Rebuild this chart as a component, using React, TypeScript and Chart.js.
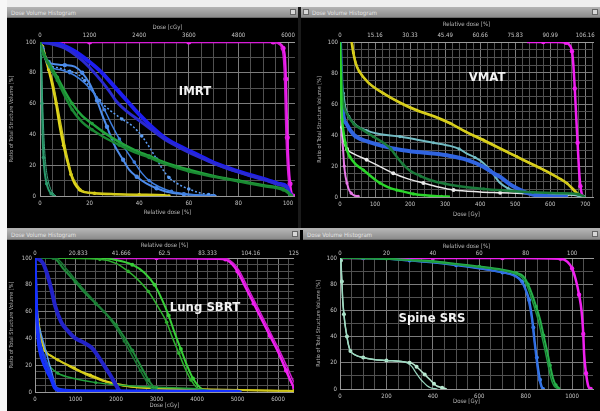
import React, { useEffect, useRef } from "react";
import { Chart, registerables } from "chart.js";

Chart.register(...registerables);

type Pt = [number, number];

// ================= IMRT (top-left): x = relative dose [%] =================
const imrtTopLabels = ["0", "1200", "2400", "3600", "4800", "6000"];
const imrtPtvA: Pt[] = [[0,100],[20,100],[40,100],[60,100],[80,100],[94,100],[96.5,99],[98,96],[98.7,90],[99.1,76],[99.4,55],[99.7,38],[100.2,20],[100.8,8],[101.5,1],[102,0]];
const imrtPtvB: Pt[] = [[0,100],[94,100],[96,99],[97.5,96],[98.2,88],[98.6,75],[98.9,55],[99.2,38],[99.7,20],[100.3,8],[101,1],[101.5,0]];
const imrtYellowA: Pt[] = [[0,100],[1,97],[2,91],[3.5,82],[5,72],[6.5,60],[8,45],[9.5,33],[11,23],[12.5,14],[14,8],[16,4],[18,2.5],[22,1.8],[30,1.2],[40,0.8],[50,0.5],[52,0]];
const imrtYellowB: Pt[] = [[0,100],[1.5,95],[3,86],[5,75],[7,59],[8.5,46],[10,33],[11.5,22],[13,13],[15,7],[17,3.5],[20,2],[26,1.5],[35,1],[45,0.6],[52,0]];
const imrtTealA: Pt[] = [[0,98],[0.3,90],[0.6,80],[0.8,60],[1,42],[1.4,25],[2,14],[2.7,8],[3.5,4],[4.5,1.5],[6,0]];
const imrtTealB: Pt[] = [[0,98],[0.5,88],[0.9,70],[1.3,50],[1.8,32],[2.5,18],[3.3,10],[4.2,5],[5.2,2],[6.5,0]];
const imrtGreenA: Pt[] = [[0,100],[1.5,92],[4,85],[7,77],[10,68],[13,60],[17,52],[21,47],[26,41],[32,35],[38,30],[44,26],[50,22],[60,17],[70,13],[80,10],[90,7],[98,4.5],[100,2.5],[101,0.5],[102,0]];
const imrtGreenB: Pt[] = [[0,100],[1.5,92],[4,84],[7,75],[10,65],[13,56],[17,48],[21,43],[26,38],[32,33],[38,28.5],[44,25],[50,21],[60,16],[70,12.5],[80,9.5],[90,6.5],[98,4],[100,2],[101,0.5],[102,0]];
const imrtBlueDarkA: Pt[] = [[0,100],[5,99.5],[9,98],[14,94],[20,87],[25,80],[30,71],[35,62],[40,53],[45,45],[51,37],[58,31],[64.5,26],[71,21],[78,17],[85,13.5],[91.5,10.5],[96,8],[99.5,6],[100.5,2],[101.5,0]];
const imrtBlueDarkB: Pt[] = [[0,100],[4,99],[10,96],[17,88],[23,78],[28,68],[31,61],[35,55],[40,49],[45,43],[51,36],[58,30],[64.5,25],[71,20.5],[78,16.5],[85,13],[91.5,10],[96,7.5],[99.5,5.5],[100.5,2],[101.5,0]];
const imrtBlueLightA: Pt[] = [[0,100],[1,96],[2,91],[3.5,87],[6,85.5],[10,85],[14,84],[17,80],[20,73],[23,62],[25,53],[27,45],[30,33],[33.5,23.5],[36,17],[39,12.5],[43,8],[47,5],[51,2.8],[58,1.2],[65,0.5],[70,0]];
const imrtBlueLightB: Pt[] = [[0,100],[1,95],[2,90],[4,85],[8,83],[12,81],[14.8,79.6],[18,75],[21,69],[24,62],[28,56],[33,50],[37.6,45],[41,39],[44,32],[47,24],[49.6,17],[52,12],[55,8.4],[60,4.5],[64.5,2],[68,1],[72,0]];
const imrtBlueLightC: Pt[] = [[0,100],[1,95],[2,89],[4,84],[8,82],[12,80],[16,76],[20,70],[23,64],[26,56],[29,46],[32,37],[35,29],[38,22],[41,15],[44,10],[48,6],[53,3],[60,1.2],[70,0]];

// ================= VMAT (top-right): x = dose [Gy] =================
const vmatTopLabels = ["0", "15.16", "30.33", "45.49", "60.66", "75.83", "90.99", "106.16"];
const vmatPtv: Pt[] = [[534,100],[580,100],[620,100],[645,99.5],[655,98],[662,94],[666,85],[670,70],[674,52],[678,35],[682,18],[686,7],[690,2],[694,0]];
const vmatYellowA: Pt[] = [[33,100],[38,93],[45,86],[55,81],[80,74],[123,67],[170,61],[219,56],[270,52],[314,47.7],[360,42],[409,36.8],[460,31],[505,26],[550,21],[600,15.3],[630,11.5],[648,8.8],[665,5],[676,2.4],[690,0]];
const vmatYellowB: Pt[] = [[35,100],[40,92],[48,85],[60,79],[90,72],[130,66],[175,60],[225,55],[275,51],[320,46.5],[365,41],[415,35.5],[465,30],[510,25],[555,20],[605,14.5],[635,10.5],[655,7.5],[670,4.5],[682,1.8],[692,0]];
const vmatPink: Pt[] = [[0,100],[2,80],[4,55],[6,40],[9,30],[12,20],[16,13],[20,9],[25,5],[32,2.5],[40,1],[52,0.5]];
const vmatGreen: Pt[] = [[0,100],[2,80],[4,60],[6,50],[9.5,43],[15,35],[20,30],[28,26],[45,21],[67,17.4],[90,13],[114,9],[140,6],[162,4.5],[190,3],[209,2],[250,1],[290,0.4],[314,0.2]];
const vmatWhite: Pt[] = [[0,100],[2,75],[4,55],[6,45],[9.5,37],[20,31],[38,28],[76,24],[114,19.6],[152,15.3],[190,12],[238,9],[280,6.5],[324,4.5],[400,3.3],[457,2.8],[550,2],[648,1.5],[680,0.8],[695,0]];
const vmatCyan: Pt[] = [[0,100],[3,85],[6,72],[9.5,67],[15,58],[25,52],[48,46],[75,43],[105,41],[171,39],[220,37],[267,35],[314,33],[340,31],[362,28],[385,25.5],[409,22],[430,17],[457,9],[480,5.5],[505,3.4],[552,2.5],[620,2],[680,1],[695,0]];
const vmatBlue: Pt[] = [[0,100],[3,80],[6,62],[10,52],[19,47],[40,40],[76,36],[120,33],[171,30.5],[220,29],[267,28],[314,26.5],[362,24],[409,19.6],[440,15],[457,13],[480,9],[505,5.6],[530,3],[552,1.5],[600,0.5],[650,0]];
const vmatDarkGreen: Pt[] = [[0,100],[3,85],[6,70],[10,60],[19,54],[40,47],[67,43],[95,39],[124,35],[145,31],[162,26],[180,21],[200,17],[230,13.5],[257,11],[300,8.5],[352,6.6],[410,5.2],[460,4.3],[550,3],[620,2.4],[680,1.8],[700,0]];

// ================= Lung SBRT (bottom-left): x = dose [cGy] =================
const lungTopLabels = ["0", "20.833", "41.666", "62.5", "83.333", "104.16", "125"];
const lungPtvA: Pt[] = [[1480,100],[3000,100],[4500,99.5],[4700,99],[4850,96],[5000,90],[5200,78],[5400,66],[5600,54],[5800,42],[6000,30],[6200,16],[6300,9],[6400,3]];
const lungPtvB: Pt[] = [[1500,100],[3000,100],[4700,99.5],[4900,96],[5050,90],[5250,78],[5450,66],[5650,54],[5850,42],[6050,30],[6250,17],[6350,10],[6450,4]];
const lungGreenA: Pt[] = [[0,100],[1600,100],[2000,98.5],[2400,95],[2700,89],[2950,80],[3150,68],[3300,57],[3450,44],[3600,32],[3750,20],[3900,10],[4050,4],[4200,1],[4300,0]];
const lungGreenB: Pt[] = [[0,100],[1600,99],[2000,96],[2300,90],[2500,85],[2800,75],[3050,63],[3250,52],[3400,40],[3550,29],[3700,18],[3850,9],[4000,3],[4150,0.5],[4250,0]];
const lungDarkGreenA: Pt[] = [[0,100],[450,100],[700,92],[1000,82],[1200,75],[1500,66],[1800,57],[2000,50],[2200,41],[2400,31],[2600,20],[2800,9],[2950,3],[3050,0]];
const lungDarkGreenB: Pt[] = [[0,100],[500,100],[800,91],[1100,80],[1400,70],[1700,60],[2000,48],[2200,38],[2400,27],[2600,16],[2750,8],[2900,2],[3000,0]];
const lungBlueDark: Pt[] = [[0,100],[100,99],[200,96],[300,88],[400,77],[500,64],[650,52],[800,46],[1000,40],[1200,37],[1400,33],[1550,27],[1700,20],[1850,13],[2000,5],[2100,0]];
const lungBlueA: Pt[] = [[0,100],[20,80],[50,55],[100,40],[200,28],[300,20],[400,12],[500,4],[600,2],[1000,1],[2000,0.8],[5000,0.5],[5100,0]];
const lungBlueB: Pt[] = [[0,100],[30,70],[60,45],[120,30],[200,22],[300,15],[400,9],[480,3],[600,1],[2000,0.6],[5000,0.3],[5050,0]];
const lungBlueLight: Pt[] = [[0,60],[80,51],[200,38],[300,27],[400,16],[480,7],[560,0]];
const lungYellowA: Pt[] = [[0,100],[20,80],[50,62],[80,54],[150,40],[241,31],[400,27],[563,24],[750,21],[964,18],[1150,15],[1366,12.7],[1650,9],[1928,6.5],[2410,4],[3000,2.8],[4000,2],[5000,1.5],[6000,1],[6380,0.8]];
const lungYellowB: Pt[] = [[0,100],[25,78],[60,58],[100,49],[180,37],[280,30],[450,26],[650,22.5],[850,19],[1050,16],[1250,13],[1500,10],[1800,7],[2200,4.5],[2800,3],[3600,2.2],[4600,1.6],[5600,1.1],[6380,0.9]];
const lungGreenLow: Pt[] = [[0,100],[30,70],[80,45],[200,28],[400,18],[563,14],[964,10],[1500,7],[2168,5],[3000,3.5],[4000,2.5],[4400,0.5],[4500,0]];

// ================= Spine SRS (bottom-right): x = dose [Gy] =================
const spineTopLabels = ["0", "20", "40", "60", "80", "100"];
const spinePtv: Pt[] = [[0,100],[100,100],[250,100],[400,100],[550,100],[700,100],[850,99.9],[950,99.5],[980,97],[1000,92],[1015,84],[1030,72],[1041,59],[1048,42],[1052,26],[1060,12],[1070,2],[1080,0]];
const spineGreenA: Pt[] = [[0,100],[200,99.5],[300,98.5],[400,97.5],[500,95.5],[600,93.5],[700,91],[760,88.5],[790,86],[810,80],[826,73],[845,63],[862,53],[877,41],[891,30],[905,18],[918,8],[930,3],[948,0]];
const spineGreenB: Pt[] = [[0,100],[200,99.2],[300,98.2],[400,97],[500,95],[600,93],[700,90.5],[755,88],[785,85],[805,79],[820,72],[838,62],[855,52],[870,40],[884,29],[898,17],[911,7],[922,2.5],[940,0]];
const spineBlueA: Pt[] = [[0,100],[100,100],[200,99.5],[300,98],[400,96.5],[500,94.5],[600,92],[700,89],[760,86],[785,82],[800,76],[815,68],[825,58],[833,47],[840,35],[848,24],[855,14.5],[862,7],[869,2],[875,0]];
const spineBlueB: Pt[] = [[0,100],[150,99.6],[250,98.8],[350,97.5],[450,95.8],[550,93.5],[650,90.5],[740,87],[770,84],[790,79],[805,72],[818,62],[828,50],[835,38],[843,26],[850,16],[857,8],[864,3],[870,0]];
const spineTealA: Pt[] = [[0,100],[4,98],[6,90],[8,82],[12,67],[17,57],[22,49],[30,40],[36,34],[45,29],[65,26],[100,24],[144,22.6],[200,21.8],[273,20.8],[300,20],[316,19],[330,17],[345,14.5],[365,11],[388,7],[405,4],[417,2.3],[440,1],[460,0]];
const spineTealB: Pt[] = [[0,100],[4,98],[6,90],[8,82],[12,67],[17,57],[22,49],[30,40],[36,34],[45,29],[65,26],[100,24],[144,22.6],[200,21.8],[273,20.8],[295,19.5],[310,17],[325,13],[345,8],[360,5],[375,2.5],[390,1],[420,0]];

// ================= styling =================
const FONT = "'Liberation Sans Narrow','DejaVu Sans Condensed','Liberation Sans',sans-serif";
const Y_TITLE = "Ratio of Total Structure Volume [%]";

interface SeriesDef {
  data: Pt[];
  color: string;
  width: number;
  dash?: number[];
  marker?: number;
}

interface PanelDef {
  left: number; top: number; width: number; height: number;
  yAxisW: number; topAxisH: number; bottomAxisH: number; rightPad: number;
  xMax: number; xGrid: number; xLabelEvery: number; yGrid: number;
  topLabels: string[]; topTitle: string; bottomTitle: string;
  yTitlePad: number; yTickPad: number;
  topTitlePad: number; topTickPad: number;
  bottomTitlePad: number; bottomTickPad: number;
  series: SeriesDef[];
}

const MAG = "#f020f0";
const YEL = "#e2d81e";
const YEL2 = "#cfc61a";
const DBLUE = "#1e1ef0";
const DBLUE2 = "#2a2ad0";
const LBLUE = "#4d8ceb";
const GREEN = "#22a33c";
const GREEN2 = "#1b8a33";
const TEAL = "#2a9a6c";
const BGREEN = "#38d038";

const panels: PanelDef[] = [
  {
    left: 7, top: 18, width: 291, height: 210,
    yAxisW: 33, topAxisH: 24, bottomAxisH: 32, rightPad: 3,
    xMax: 102.8, xGrid: 5, xLabelEvery: 20, yGrid: 10,
    topLabels: imrtTopLabels, topTitle: "Dose [cGy]", bottomTitle: "Relative dose [%]",
    yTitlePad: 1, yTickPad: 4, topTitlePad: 6, topTickPad: 3, bottomTitlePad: 12, bottomTickPad: 3.5,
    series: [
      { data: imrtTealB, color: "#3aa57c", width: 1 },
      { data: imrtTealA, color: TEAL, width: 2, marker: 1.8 },
      { data: imrtGreenB, color: GREEN2, width: 2.5, marker: 1.8 },
      { data: imrtGreenA, color: GREEN, width: 2.5, marker: 1.8 },
      { data: imrtBlueDarkB, color: DBLUE2, width: 3 },
      { data: imrtBlueDarkA, color: DBLUE, width: 4 },
      { data: imrtBlueLightC, color: "#3f7fe0", width: 1.5, marker: 1.8 },
      { data: imrtBlueLightB, color: "#5a9cf5", width: 1.5, dash: [2, 2], marker: 1.8 },
      { data: imrtBlueLightA, color: LBLUE, width: 2, marker: 2.2 },
      { data: imrtYellowB, color: YEL2, width: 1.5 },
      { data: imrtYellowA, color: YEL, width: 2.5, marker: 1.8 },
      { data: imrtPtvB, color: "#d01ad0", width: 1.5 },
      { data: imrtPtvA, color: MAG, width: 2.5, marker: 2.5 },
    ],
  },
  {
    left: 301, top: 18, width: 299, height: 210,
    yAxisW: 39, topAxisH: 24, bottomAxisH: 31, rightPad: 7,
    xMax: 722, xGrid: 20, xLabelEvery: 100, yGrid: 5,
    topLabels: vmatTopLabels, topTitle: "Relative dose [%]", bottomTitle: "Dose [Gy]",
    yTitlePad: 15, yTickPad: 2, topTitlePad: 3, topTickPad: 3.4, bottomTitlePad: 10, bottomTickPad: 3.4,
    series: [
      { data: vmatGreen, color: "#2bd62b", width: 2.5, marker: 1.6 },
      { data: vmatDarkGreen, color: "#1a7a3a", width: 2.5, marker: 1.6 },
      { data: vmatBlue, color: "#3064e0", width: 4 },
      { data: vmatCyan, color: "#72bcc4", width: 2, marker: 1.6 },
      { data: vmatWhite, color: "#e8e8e8", width: 1.5, marker: 2 },
      { data: vmatYellowB, color: YEL2, width: 1.5 },
      { data: vmatYellowA, color: YEL, width: 2.5, marker: 1.4 },
      { data: vmatPink, color: "#e879e8", width: 2, marker: 1.6 },
      { data: vmatPtv, color: MAG, width: 2.5, marker: 2.2 },
    ],
  },
  {
    left: 7, top: 240, width: 293, height: 171,
    yAxisW: 28, topAxisH: 18, bottomAxisH: 19, rightPad: 0,
    xMax: 6390, xGrid: 250, xLabelEvery: 1000, yGrid: 5,
    topLabels: lungTopLabels, topTitle: "Relative dose [%]", bottomTitle: "Dose [cGy]",
    yTitlePad: 1, yTickPad: 3, topTitlePad: 1.4, topTickPad: 1, bottomTitlePad: 1.5, bottomTickPad: 4,
    series: [
      { data: lungBlueB, color: "#1530ff", width: 3 },
      { data: lungBlueA, color: "#1a3ce8", width: 3 },
      { data: lungBlueLight, color: "#5a9af0", width: 1.5 },
      { data: lungBlueDark, color: "#2222c8", width: 4 },
      { data: lungGreenLow, color: GREEN, width: 1.5, marker: 1.6 },
      { data: lungDarkGreenB, color: "#1a7a34", width: 1.5, marker: 1.6 },
      { data: lungDarkGreenA, color: "#1f8a3a", width: 2, marker: 2 },
      { data: lungYellowB, color: YEL2, width: 1.5 },
      { data: lungYellowA, color: YEL, width: 2, marker: 1.6 },
      { data: lungGreenB, color: "#2fb02f", width: 1.5, marker: 1.8 },
      { data: lungGreenA, color: BGREEN, width: 2, marker: 2 },
      { data: lungPtvB, color: "#d01ad0", width: 1.5 },
      { data: lungPtvA, color: MAG, width: 2.5, marker: 2.2 },
    ],
  },
  {
    left: 303, top: 240, width: 297, height: 171,
    yAxisW: 37, topAxisH: 18, bottomAxisH: 22, rightPad: 7,
    xMax: 1090, xGrid: 50, xLabelEvery: 200, yGrid: 10,
    topLabels: spineTopLabels, topTitle: "Relative dose [%]", bottomTitle: "Dose [Gy]",
    yTitlePad: 12, yTickPad: 3, topTitlePad: 3, topTickPad: 1, bottomTitlePad: 6, bottomTickPad: 3.5,
    series: [
      { data: spineTealB, color: "#9ad8c0", width: 1.2 },
      { data: spineTealA, color: "#b8e8d0", width: 1.5, marker: 2 },
      { data: spineGreenB, color: "#1f9a40", width: 1.5 },
      { data: spineGreenA, color: "#27b04a", width: 2, marker: 1.8 },
      { data: spineBlueB, color: "#2f6ae0", width: 1.5 },
      { data: spineBlueA, color: "#3a80f0", width: 2, marker: 2 },
      { data: spinePtv, color: MAG, width: 2.5, marker: 2.2 },
    ],
  },
];

const titleBars = [
  { left: 7, top: 7, width: 291 },
  { left: 301, top: 7, width: 299 },
  { left: 7, top: 229, width: 293 },
  { left: 303, top: 229, width: 297 },
];

const overlayLabels = [
  { text: "IMRT", x: 195, y: 91 },
  { text: "VMAT", x: 487, y: 77 },
  { text: "Lung SBRT", x: 205, y: 307 },
  { text: "Spine SRS", x: 432, y: 318 },
];

const isMajor = (v: number, every: number) => Math.abs(v / every - Math.round(v / every)) < 1e-6;

function DvhChart({ def }: { def: PanelDef }) {
  const ref = useRef<HTMLCanvasElement>(null);
  useEffect(() => {
    const tickFont = { size: 6, family: FONT };
    const tickColor = "#c4c4c4";
    const gridMajor = "#7c7c7c";
    const gridMinor = "#515151";
    const chart = new Chart(ref.current as HTMLCanvasElement, {
      type: "line",
      data: {
        datasets: def.series.map((s) => ({
          data: s.data.map(([x, y]) => ({ x, y })),
          borderColor: s.color,
          backgroundColor: s.color,
          borderWidth: s.width,
          borderDash: s.dash ?? [],
          pointRadius: (c: any) => (s.marker && c.dataIndex % 2 === 1 ? s.marker : 0),
          pointBorderWidth: 0,
          pointHoverRadius: 0,
          cubicInterpolationMode: "monotone",
          fill: false,
        })) as any,
      },
      options: {
        animation: false,
        responsive: false,
        maintainAspectRatio: false,
        events: [],
        layout: { padding: { left: 0, right: def.rightPad, top: 0, bottom: 0 }, autoPadding: false } as any,
        plugins: { legend: { display: false }, tooltip: { enabled: false } },
        scales: {
          x: {
            type: "linear",
            position: "bottom",
            min: 0,
            max: def.xMax,
            ticks: {
              stepSize: def.xGrid,
              autoSkip: false,
              includeBounds: false,
              maxRotation: 0,
              color: tickColor,
              font: tickFont,
              padding: def.bottomTickPad,
              callback: (v: any) => (isMajor(Number(v), def.xLabelEvery) ? String(v) : ""),
            },
            grid: {
              color: (c: any) => (c.tick && isMajor(c.tick.value, def.xLabelEvery) ? gridMajor : gridMinor),
              lineWidth: 1,
              drawTicks: false,
            },
            border: { color: "#9a9a9a" },
            title: {
              display: true,
              text: def.bottomTitle,
              color: "#b8b8b8",
              font: tickFont,
              padding: { top: 0, bottom: def.bottomTitlePad },
            },
            afterFit: (s: any) => { s.height = def.bottomAxisH; },
          },
          x2: {
            type: "linear",
            position: "top",
            min: 0,
            max: def.xMax,
            ticks: {
              stepSize: def.xLabelEvery,
              autoSkip: false,
              includeBounds: false,
              maxRotation: 0,
              color: tickColor,
              font: tickFont,
              padding: def.topTickPad,
              callback: (_v: any, i: number) => def.topLabels[i] ?? "",
            },
            grid: { drawOnChartArea: false, drawTicks: false },
            border: { color: "#9a9a9a" },
            title: {
              display: true,
              text: def.topTitle,
              color: "#b8b8b8",
              font: tickFont,
              padding: { top: def.topTitlePad, bottom: 0 },
            },
            afterFit: (s: any) => { s.height = def.topAxisH; },
          },
          y: {
            type: "linear",
            position: "left",
            min: 0,
            max: 100,
            ticks: {
              stepSize: def.yGrid,
              autoSkip: false,
              color: tickColor,
              font: tickFont,
              padding: def.yTickPad,
              callback: (v: any) => (isMajor(Number(v), 20) ? String(v) : ""),
            },
            grid: {
              color: (c: any) => (c.tick && isMajor(c.tick.value, 20) ? gridMajor : gridMinor),
              lineWidth: 1,
              drawTicks: false,
            },
            border: { color: "#9a9a9a" },
            title: {
              display: true,
              text: Y_TITLE,
              color: "#a8a8a8",
              font: { size: 5.5, family: FONT },
              padding: { top: def.yTitlePad, bottom: 0 },
            },
            afterFit: (s: any) => { s.width = def.yAxisW; },
          },
        },
      } as any,
    });
    return () => chart.destroy();
  }, [def]);
  return (
    <canvas
      ref={ref}
      width={def.width}
      height={def.height}
      style={{ position: "absolute", left: def.left, top: def.top, width: def.width, height: def.height, display: "block" }}
    />
  );
}

export default function App() {
  return (
    <div style={{ position: "fixed", left: 0, top: 0, width: 600, height: 411, background: "#000", overflow: "hidden", fontFamily: FONT }}>
      <div style={{ position: "absolute", left: 0, top: 0, width: 600, height: 7, background: "#efefef" }} />
      <div style={{ position: "absolute", left: 0, top: 0, width: 7, height: 411, background: "#f7f7f7" }} />
      <div style={{ position: "absolute", left: 298, top: 7, width: 3, height: 221, background: "#1a1a1a" }} />
      <div style={{ position: "absolute", left: 7, top: 228, width: 593, height: 2, background: "#b0b0b0" }} />
      {titleBars.map((b, i) => (
        <div
          key={i}
          style={{
            position: "absolute", left: b.left, top: b.top, width: b.width, height: 11,
            background: "linear-gradient(#b4b4b4, #8c8c8c)", boxSizing: "border-box",
            borderBottom: "1px solid #6a6a6a",
          }}
        >
          <span style={{ position: "absolute", left: i === 1 ? 11 : 4, top: 2, fontSize: 6, lineHeight: "7px", color: "#e4e4e4", whiteSpace: "nowrap" }}>
            Dose Volume Histogram
          </span>
          {i === 1 && (
            <div style={{ position: "absolute", left: 2, top: 2, width: 6, height: 6, background: "#d8d8d8", border: "1px solid #666", boxSizing: "border-box" }} />
          )}
          <div style={{ position: "absolute", right: 2, top: 2, width: 6, height: 6, background: "#d8d8d8", border: "1px solid #666", boxSizing: "border-box" }} />
        </div>
      ))}
      {panels.map((p, i) => (
        <DvhChart key={i} def={p} />
      ))}
      {overlayLabels.map((l, i) => (
        <div
          key={i}
          style={{
            position: "absolute", left: l.x - 40, top: l.y - 8, width: 80, height: 16,
            textAlign: "center", color: "#f2f2f2", fontSize: 13, lineHeight: "16px",
            fontWeight: "bold", whiteSpace: "nowrap",
          }}
        >
          {l.text}
        </div>
      ))}
    </div>
  );
}
